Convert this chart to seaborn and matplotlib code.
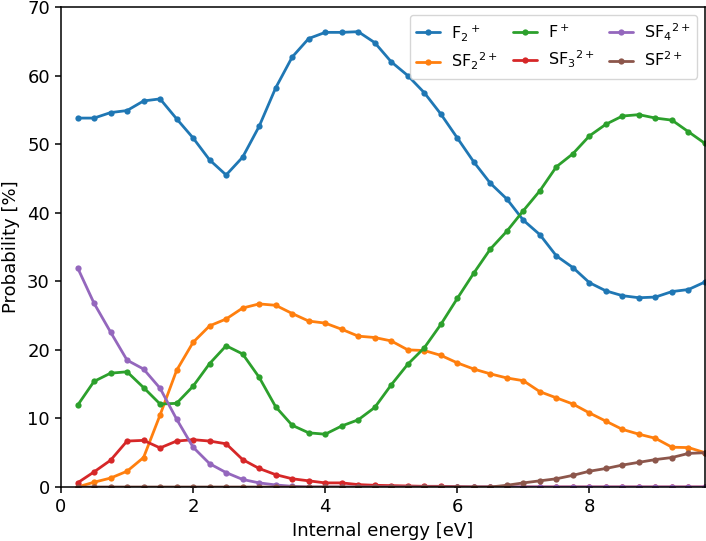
import numpy as np
import pandas as pd
import matplotlib
matplotlib.use('Agg')
import matplotlib.pyplot as plt
import seaborn as sns

# energia interna (eV)
energy = [0.25 * i for i in range(1, 40)]

f2_plus = [53.8, 53.8, 54.6, 54.9, 56.3, 56.6, 53.7, 50.9, 47.7, 45.5,
           48.1, 52.6, 58.2, 62.7, 65.4, 66.3, 66.3, 66.4, 64.8, 62.0,
           60.0, 57.5, 54.4, 50.9, 47.4, 44.3, 42.0, 38.9, 36.8, 33.7,
           32.0, 29.8, 28.6, 27.9, 27.6, 27.7, 28.5, 28.8, 29.9]
sf2_2plus = [0.0, 0.7, 1.3, 2.3, 4.3, 10.5, 17.0, 21.1, 23.5, 24.5,
             26.1, 26.7, 26.5, 25.3, 24.2, 23.9, 23.0, 22.0, 21.8, 21.3,
             20.0, 19.9, 19.2, 18.1, 17.2, 16.5, 15.9, 15.5, 13.9, 13.0,
             12.1, 10.8, 9.6, 8.4, 7.7, 7.1, 5.8, 5.75, 5.0]
f_plus = [11.9, 15.4, 16.6, 16.8, 14.5, 12.1, 12.2, 14.7, 18.0, 20.6,
          19.4, 16.0, 11.7, 9.0, 7.9, 7.7, 8.9, 9.8, 11.6, 14.9,
          17.9, 20.3, 23.7, 27.5, 31.2, 34.7, 37.3, 40.3, 43.2, 46.7,
          48.6, 51.2, 52.9, 54.1, 54.3, 53.8, 53.5, 51.8, 50.1]
sf3_2plus = [0.6, 2.2, 3.9, 6.7, 6.8, 5.7, 6.7, 6.9, 6.7, 6.3,
             4.0, 2.7, 1.8, 1.2, 0.9, 0.6, 0.6, 0.35, 0.25, 0.2,
             0.15, 0.1, 0.1, 0.05, 0.0, 0.0, 0.0, 0.0, 0.0, 0.0,
             0.0, 0.0, 0.0, 0.0, 0.0, 0.0, 0.0, 0.0, 0.0]
sf4_2plus = [32.0, 26.8, 22.6, 18.5, 17.2, 14.4, 9.9, 5.8, 3.4, 2.1,
             1.1, 0.6, 0.3, 0.1, 0.0, 0.0, 0.0, 0.0, 0.0, 0.0,
             0.0, 0.0, 0.0, 0.0, 0.0, 0.0, 0.0, 0.0, 0.0, 0.0,
             0.0, 0.0, 0.0, 0.0, 0.0, 0.0, 0.0, 0.0, 0.0]
sf_2plus = [0.0, 0.0, 0.0, 0.0, 0.0, 0.0, 0.0, 0.0, 0.0, 0.0,
            0.0, 0.0, 0.0, 0.0, 0.0, 0.0, 0.0, 0.0, 0.0, 0.0,
            0.0, 0.0, 0.0, 0.0, 0.0, 0.0, 0.25, 0.6, 0.9, 1.2,
            1.7, 2.3, 2.7, 3.2, 3.6, 4.0, 4.3, 4.9, 5.0]

labels = [r'F$_2{}^+$', r'SF$_2{}^{2+}$', r'F$^+$',
          r'SF$_3{}^{2+}$', r'SF$_4{}^{2+}$', r'SF$^{2+}$']
series = [f2_plus, sf2_2plus, f_plus, sf3_2plus, sf4_2plus, sf_2plus]

# formato largo para seaborn
df = pd.concat([pd.DataFrame({'energy': energy, 'prob': vals, 'ion': lab})
                for lab, vals in zip(labels, series)], ignore_index=True)

sns.set_style('ticks', {'axes.edgecolor': 'black', 'xtick.color': 'black',
                        'ytick.color': 'black', 'text.color': 'black',
                        'axes.labelcolor': 'black'})
plt.rcParams['font.family'] = ['DejaVu Sans']
plt.rcParams['xtick.major.size'] = 4.5
plt.rcParams['ytick.major.size'] = 4.5
plt.rcParams['xtick.major.width'] = 1.1
plt.rcParams['ytick.major.width'] = 1.1
plt.rcParams['axes.linewidth'] = 1.1

fig, ax = plt.subplots(figsize=(7.06, 5.41), dpi=100)
fig.subplots_adjust(left=61/706, right=705/706, top=1-7/541, bottom=1-487/541)

sns.lineplot(data=df, x='energy', y='prob', hue='ion', hue_order=labels,
             palette='tab10', marker='o', markersize=4.5, markeredgewidth=0,
             linewidth=2, ax=ax)

ax.set_xlim(0, 9.75)
ax.set_ylim(0, 70)
ax.set_xlabel('Internal energy [eV]', fontsize=13, labelpad=4)
ax.set_ylabel('Probability [%]', fontsize=13, labelpad=5)
ax.tick_params(labelsize=13)

handles, labs = ax.get_legend_handles_labels()
ax.legend(handles, labs, ncol=3, loc='upper right', fontsize=11.5,
          handlelength=1.5, columnspacing=0.9, handletextpad=0.7,
          frameon=True, framealpha=0.8, edgecolor='0.8', fancybox=True)

plt.savefig('out.png', dpi=100)
plt.close()
